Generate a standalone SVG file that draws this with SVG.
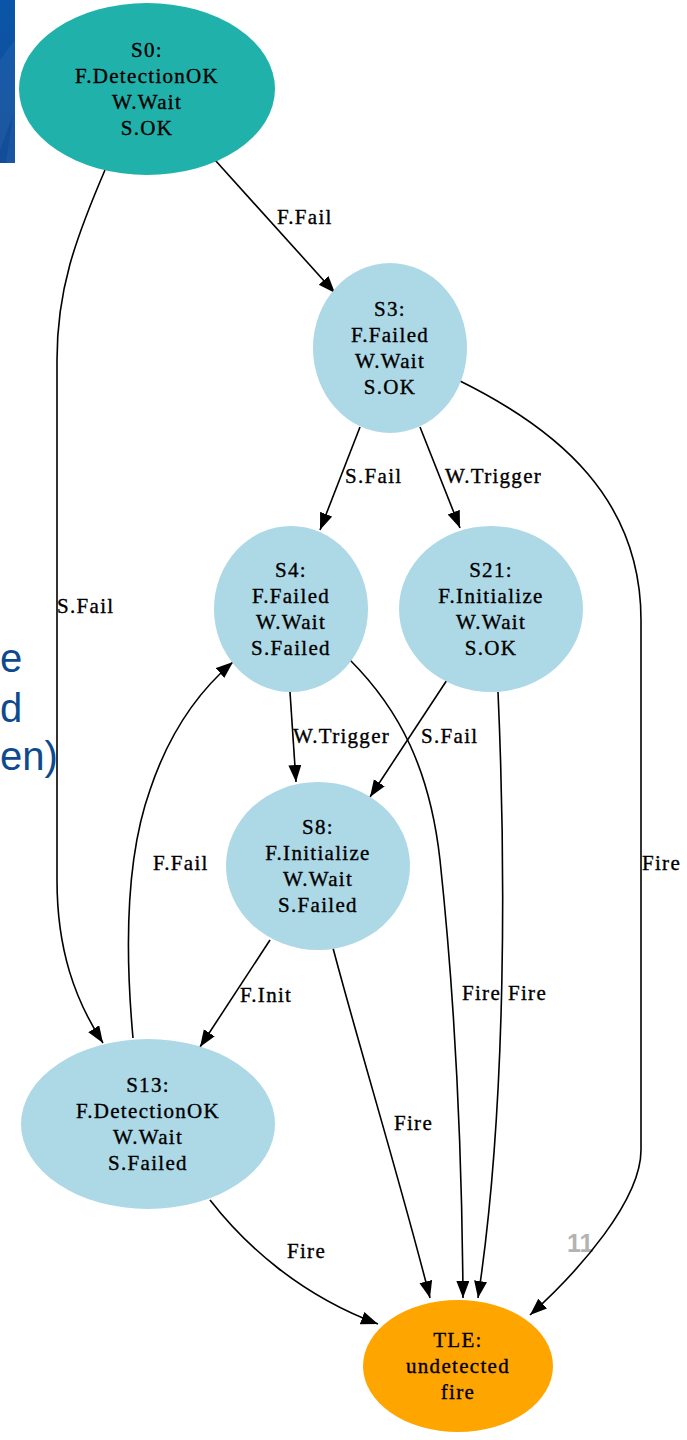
<svg xmlns="http://www.w3.org/2000/svg" width="687" height="1440" viewBox="0 0 687 1440">
<defs>
<style>
.nt{font-family:'Liberation Serif','DejaVu Serif',serif;font-size:21px;letter-spacing:1.3px;fill:#000;stroke:#000;stroke-width:0.35;text-anchor:middle}
.el{font-family:'Liberation Serif','DejaVu Serif',serif;font-size:21px;letter-spacing:1.3px;fill:#000;stroke:#000;stroke-width:0.35}
.e{fill:none;stroke:#000;stroke-width:1.6;marker-end:url(#ah)}
.lb{fill:#add8e6}
.slide{font-family:'Liberation Sans',Arial,sans-serif;font-size:40px;fill:#0d4a8e}
</style>
<marker id="ah" markerUnits="userSpaceOnUse" markerWidth="18" markerHeight="14" refX="17" refY="6.5" orient="auto">
<path d="M0,0 L17,6.5 L0,13 z" fill="#000"/>
</marker>
<linearGradient id="bg" x1="0" y1="0" x2="0" y2="1">
<stop offset="0" stop-color="#0a55a8"/>
<stop offset="1" stop-color="#134d97"/>
</linearGradient>
</defs>
<rect width="687" height="1440" fill="#fff"/>
<g id="slide-bg">
<rect x="0" y="0" width="15" height="163" fill="url(#bg)"/>
<polygon points="0,60 15,40 15,110 0,150" fill="#3a74b8" opacity="0.25"/>
<polygon points="6,163 15,100 15,163" fill="#2a66ad" opacity="0.35"/>
<text class="slide" x="0" y="672">e</text>
<text class="slide" x="0" y="722">d</text>
<text class="slide" x="0" y="770">en)</text>
<text x="567" y="1252" font-family="'Liberation Sans',Arial,sans-serif" font-size="25" font-weight="bold" fill="#b3b3b3">11</text>
</g>
<g id="edges" font-family="'Liberation Serif','DejaVu Serif',serif">
<path class="e" d="M215,160 L335,293"/>
<path class="e" d="M105,170 C75,240 57,290 57,360 L57,880 C57,950 75,1000 103,1043"/>
<path class="e" d="M360,427 L320,530"/>
<path class="e" d="M420,427 L460,528"/>
<path class="e" d="M458,380 C560,430 641,500 641,620 L641,1150 C641,1200 580,1270 530,1315"/>
<path class="e" d="M290,692 L296,782"/>
<path class="e" d="M447,680 L370,797"/>
<path class="e" d="M350,660 C400,710 430,770 440,860 C455,1000 462,1150 463,1298"/>
<path class="e" d="M498,692 C505,850 508,1100 478,1298"/>
<path class="e" d="M133,1038 C125,950 125,860 150,790 C170,730 200,690 233,662"/>
<path class="e" d="M270,940 L200,1047"/>
<path class="e" d="M333,948 C360,1050 400,1180 430,1298"/>
<path class="e" d="M210,1200 C245,1245 300,1295 378,1324"/>
<text class="el" x="277" y="224">F.Fail</text>
<text class="el" x="57" y="613">S.Fail</text>
<text class="el" x="345" y="483">S.Fail</text>
<text class="el" x="445" y="483">W.Trigger</text>
<text class="el" x="642" y="870">Fire</text>
<text class="el" x="293" y="743">W.Trigger</text>
<text class="el" x="421" y="743">S.Fail</text>
<text class="el" x="153" y="870">F.Fail</text>
<text class="el" x="462" y="1000">Fire</text>
<text class="el" x="508" y="1000">Fire</text>
<text class="el" x="240" y="1002">F.Init</text>
<text class="el" x="394" y="1130">Fire</text>
<text class="el" x="287" y="1258">Fire</text>
</g>
<g id="S0" font-family="'Liberation Serif','DejaVu Serif',serif">
<ellipse cx="147" cy="89" rx="128" ry="86" fill="#20b2aa"/>
<text class="nt" x="147" y="57">S0:</text>
<text class="nt" x="147" y="83">F.DetectionOK</text>
<text class="nt" x="147" y="109">W.Wait</text>
<text class="nt" x="147" y="135">S.OK</text>
</g>
<g id="S3" font-family="'Liberation Serif','DejaVu Serif',serif">
<ellipse class="lb" cx="390" cy="348" rx="77" ry="85"/>
<text class="nt" x="390" y="316">S3:</text>
<text class="nt" x="390" y="342">F.Failed</text>
<text class="nt" x="390" y="368">W.Wait</text>
<text class="nt" x="390" y="394">S.OK</text>
</g>
<g id="S4" font-family="'Liberation Serif','DejaVu Serif',serif">
<ellipse class="lb" cx="291" cy="609" rx="77" ry="83"/>
<text class="nt" x="291" y="577">S4:</text>
<text class="nt" x="291" y="603">F.Failed</text>
<text class="nt" x="291" y="629">W.Wait</text>
<text class="nt" x="291" y="655">S.Failed</text>
</g>
<g id="S21" font-family="'Liberation Serif','DejaVu Serif',serif">
<ellipse class="lb" cx="491" cy="609" rx="92" ry="83"/>
<text class="nt" x="491" y="577">S21:</text>
<text class="nt" x="491" y="603">F.Initialize</text>
<text class="nt" x="491" y="629">W.Wait</text>
<text class="nt" x="491" y="655">S.OK</text>
</g>
<g id="S8" font-family="'Liberation Serif','DejaVu Serif',serif">
<ellipse class="lb" cx="318" cy="866" rx="92" ry="84"/>
<text class="nt" x="318" y="834">S8:</text>
<text class="nt" x="318" y="860">F.Initialize</text>
<text class="nt" x="318" y="886">W.Wait</text>
<text class="nt" x="318" y="912">S.Failed</text>
</g>
<g id="S13" font-family="'Liberation Serif','DejaVu Serif',serif">
<ellipse class="lb" cx="148" cy="1124" rx="127" ry="85"/>
<text class="nt" x="148" y="1092">S13:</text>
<text class="nt" x="148" y="1118">F.DetectionOK</text>
<text class="nt" x="148" y="1144">W.Wait</text>
<text class="nt" x="148" y="1170">S.Failed</text>
</g>
<g id="TLE" font-family="'Liberation Serif','DejaVu Serif',serif">
<ellipse cx="458" cy="1366" rx="95" ry="66" fill="#ffa500"/>
<text class="nt" x="458" y="1347">TLE:</text>
<text class="nt" x="458" y="1373">undetected</text>
<text class="nt" x="458" y="1399">fire</text>
</g>
</svg>
